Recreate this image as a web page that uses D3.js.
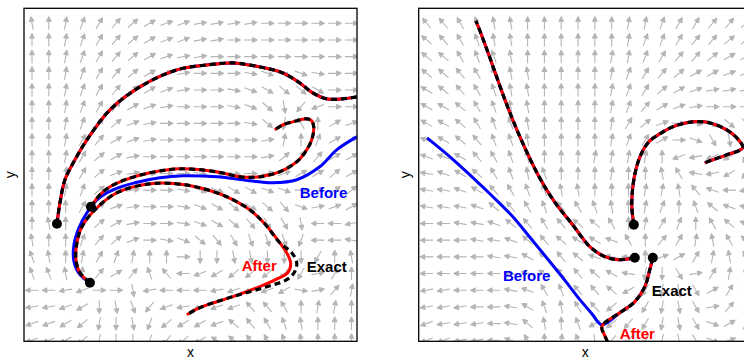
<!DOCTYPE html>
<html>
<head>
<meta charset="utf-8">
<script src="https://cdn.jsdelivr.net/npm/d3@7"></script>
<style>
  body { margin: 0; background: #fff; }
  text { font-family: "Liberation Sans", Arial, sans-serif; }
</style>
</head>
<body>
<svg id="chart" width="744" height="360"></svg>
<script>
// arrow directions, one char per grid cell, 10 degree steps (0 = right, 9 = up, i = left, r = down)
const dirCodes = '0123456789abcdefghijklmnopqrstuvwxyz'

const fieldLeft = [
  'a9876543221111000000',
  '99876543221100000000',
  '99876543211000000000',
  '9987654321000zyxyz00',
  '998765432100zyxwwx00',
  '998765321000zywsnk00',
  '9987542100000zwqc932',
  '99865321000000189733',
  '99864310000000146533',
  '9986421000zzz0123343',
  '998742100zyyxxyy0234',
  '999642100zyxwxwvy123',
  '9a9743100zyxwvuusiij',
  'a9975420zywvutttpiih',
  'ba98678990rrssrrro9a',
  'bba9535bdiklmmmno169',
  'iijk00sjiiijkkklz158',
  'jjklrstnkjkkkddc9889',
  'kklmqrspmllkedcba999',
  'kklmqrrpnmlfedcba999'
]

const fieldRight = [
  'ddcbaa99999988766554',
  'edcbaa99999987765544',
  'eecbba99999887655433',
  'eedcbaa9999876543322',
  'fedcbaa9999876432111',
  'ffecbaa9999875321000',
  'ffecbba999986420zxwv',
  'gfedbba999987630yusr',
  'ggfdcba99988889kjklo',
  'hgfecbab999899achjln',
  'hhgfdcbbaa99988adgij',
  'hhhgedcbdcba9879begh',
  'iihhgedcdeec98679ceg',
  'iiihhgedeffgc9568ace',
  'iiiihhfedeghi92368ac',
  'iiiiihgfddefhqru168a',
  'jjiiihgcbddeloqsu368',
  'jjjiihfbacdmmoqsu157',
  'kjjjihea9blmnoqsuy36',
  'kkjjigc98bsnnoqsuy25'
]

// left panel paths (x, y in 0..100 units of the panel)
const leftArc = [[9.9,35.3],[10.8,41.6],[12.3,48.5],[15.3,54.5],[18.9,60.5],[25.8,69.5],[34.8,76.4],[45.9,81.5],[54.9,83.0],[62.7,83.6],[70.8,82.4],[77.7,80.6],[82.8,77.6],[86.7,74.6],[90.9,72.8],[95.7,72.8],[99.9,73.4]]
const leftCurl = [[20.1,40.4],[22.8,44.0],[25.8,46.4],[30.3,48.5],[37.8,50.6],[46.8,51.8],[57.9,50.9],[64.8,49.4],[70.8,49.4],[76.8,50.9],[81.9,53.9],[84.3,56.6],[86.4,60.5],[87.0,64.4],[86.4,66.2],[84.9,66.8],[80.7,65.9],[77.7,65.0],[75.3,63.5]]
const leftBefore = [[19.8,17.6],[16.8,20.0],[15.0,23.9],[15.0,29.0],[16.5,34.1],[18.9,38.6],[21.9,42.5],[26.7,45.5],[33.3,47.6],[40.8,49.1],[47.7,49.7],[57.9,49.4],[67.8,48.2],[74.7,47.6],[81.9,48.5],[88.8,52.4],[93.9,57.5],[99.9,61.4]]
const leftLoopAfter = [[19.8,17.6],[16.8,20.6],[15.6,24.5],[15.9,29.6],[17.4,34.4],[21.3,39.5],[27.9,44.6],[37.8,47.3],[45.9,47.3],[52.8,46.1],[60.9,43.4],[67.8,39.5],[72.3,35.3],[76.8,29.6],[79.2,26.0],[80.1,23.3],[79.2,20.6],[76.8,19.1],[70.8,16.4],[62.7,13.4],[52.8,10.1],[48.9,8.0]]
const leftLoopExact = [[19.8,17.6],[16.8,20.6],[15.6,24.5],[15.9,29.6],[17.4,34.4],[21.3,39.5],[27.9,44.6],[37.8,47.3],[45.9,47.3],[52.8,46.1],[60.9,43.4],[67.8,39.5],[72.3,35.3],[76.8,29.6],[80.4,26.6],[81.9,23.6],[81.3,20.9],[78.9,18.5],[72.9,16.4],[62.7,13.4],[52.8,10.1],[48.9,8.0]]
const leftDots = [[9.9,35.3],[20.1,40.4],[19.8,17.6]]

// right panel paths
const rightLong = [[64.9,25.1],[59.8,24.5],[55.9,25.4],[51.4,28.4],[46.0,35.3],[40.9,41.7],[36.1,49.5],[30.4,61.4],[25.9,72.5],[21.4,85.1],[18.4,93.2],[17.2,96.2]]
const rightHook = [[64.6,35.0],[64.0,40.4],[64.3,46.4],[65.2,51.5],[66.7,56.0],[69.1,59.9],[72.4,62.3],[76.3,64.4],[82.3,65.9],[87.4,65.6],[92.5,63.5],[95.5,61.1],[97.3,58.1],[92.5,56.0],[88.3,54.5],[85.9,53.6]]
const rightDown = [[70.3,25.1],[69.4,21.5],[67.9,16.4],[64.9,11.9],[60.4,8.6],[55.3,5.0],[55.0,3.8],[55.6,2.3],[56.8,-0.4]]
const rightBefore = [[70.3,25.1],[69.4,21.5],[67.9,16.4],[64.9,11.9],[60.4,8.6],[55.0,5.0],[52.0,8.3],[48.4,12.5],[44.2,17.9],[39.4,23.9],[34.0,30.5],[28.0,37.7],[22.0,43.7],[16.0,49.4],[9.4,55.4],[2.5,61.1]]
const rightDots = [[64.9,25.1],[70.3,25.1],[64.6,35.0]]

const gridCols = d3.range(20).map(i => 2.4 + i * 5.05)
const gridRows = d3.range(20).map(i => 95.5 - i * 5.01)

const panels = [
  {
    left: 24, field: fieldLeft,
    before: [leftArc, leftBefore],
    after: [leftArc, leftCurl, leftLoopAfter],
    exact: [leftArc, leftCurl, leftLoopExact],
    dots: leftDots,
    labels: [
      {text: 'Before', x: 82.8, y: 43.1, color: '#0000ff'},
      {text: 'After', x: 65.4, y: 21.0, color: '#ff0000'},
      {text: 'Exact', x: 84.9, y: 20.9, color: '#000000'}
    ]
  },
  {
    left: 418.7, field: fieldRight,
    before: [rightLong, rightHook, rightBefore],
    after: [rightLong, rightHook, rightDown],
    exact: [rightLong, rightHook, rightDown],
    dots: rightDots,
    labels: [
      {text: 'Before', x: 25.3, y: 18.2, color: '#0000ff'},
      {text: 'Exact', x: 70.0, y: 13.5, color: '#000000'},
      {text: 'After', x: 60.4, y: 0.8, color: '#ff0000'}
    ]
  }
]

const size = 333
const panelTop = 8.3
const svg = d3.select('#chart')

panels.forEach(function (p, k) {
  const x = d3.scaleLinear().domain([0, 100]).range([p.left, p.left + size])
  const y = d3.scaleLinear().domain([0, 100]).range([panelTop + size, panelTop])

  svg.append('clipPath')
    .attr('id', 'clip' + k)
    .append('rect')
    .attr('x', p.left).attr('y', panelTop)
    .attr('width', size).attr('height', size)

  const g = svg.append('g').attr('clip-path', 'url(#clip' + k + ')')

  // vector field
  const arrows = []
  p.field.forEach(function (row, r) {
    row.split('').forEach(function (ch, c) {
      arrows.push({x: gridCols[c], y: gridRows[r], a: dirCodes.indexOf(ch) * 10})
    })
  })
  const len = 13, head = 4.5, half = 2.3
  g.selectAll('path.arrow')
    .data(arrows)
    .enter()
    .append('path')
    .attr('class', 'arrow')
    .attr('fill', '#b5b5b5')
    .attr('stroke', '#b5b5b5')
    .attr('stroke-width', 1.1)
    .attr('stroke-linejoin', 'round')
    .attr('d', function (d) {
      const cx = x(d.x), cy = y(d.y)
      const ux = Math.cos(d.a * Math.PI / 180), uy = -Math.sin(d.a * Math.PI / 180)
      const tx = cx - ux * len / 2, ty = cy - uy * len / 2
      const hx = cx + ux * len / 2, hy = cy + uy * len / 2
      const bx = hx - ux * head, by = hy - uy * head
      return 'M' + tx + ',' + ty + 'L' + bx + ',' + by +
        'M' + hx + ',' + hy + 'L' + (bx - uy * half) + ',' + (by + ux * half) +
        'L' + (bx + uy * half) + ',' + (by - ux * half) + 'Z'
    })

  const line = d3.line()
    .x(d => x(d[0]))
    .y(d => y(d[1]))
    .curve(d3.curveCatmullRom.alpha(0.5))

  g.selectAll('path.before')
    .data(p.before)
    .enter()
    .append('path')
    .attr('class', 'before')
    .attr('fill', 'none')
    .attr('stroke', '#0000ff')
    .attr('stroke-width', 3)
    .attr('d', line)

  g.selectAll('path.after')
    .data(p.after)
    .enter()
    .append('path')
    .attr('class', 'after')
    .attr('fill', 'none')
    .attr('stroke', '#ff0000')
    .attr('stroke-width', 3)
    .attr('d', line)

  g.selectAll('path.exact')
    .data(p.exact)
    .enter()
    .append('path')
    .attr('class', 'exact')
    .attr('fill', 'none')
    .attr('stroke', '#000')
    .attr('stroke-width', 3.2)
    .attr('stroke-dasharray', '6,4')
    .attr('d', line)

  g.selectAll('circle')
    .data(p.dots)
    .enter()
    .append('circle')
    .attr('cx', d => x(d[0]))
    .attr('cy', d => y(d[1]))
    .attr('r', 5)
    .attr('fill', '#000')

  g.selectAll('text')
    .data(p.labels)
    .enter()
    .append('text')
    .attr('x', d => x(d.x))
    .attr('y', d => y(d.y))
    .attr('fill', d => d.color)
    .style('font-size', '15px')
    .style('font-weight', 'bold')
    .text(d => d.text)

  svg.append('rect')
    .attr('x', p.left).attr('y', panelTop)
    .attr('width', size).attr('height', size)
    .attr('fill', 'none')
    .attr('stroke', '#000')
    .attr('stroke-width', 1.3)

  svg.append('text')
    .attr('x', x(50))
    .attr('y', 357)
    .attr('text-anchor', 'middle')
    .style('font-size', '14px')
    .text('x')
  svg.append('text')
    .attr('transform', 'translate(' + (p.left - 9) + ',' + y(50) + ') rotate(-90)')
    .attr('text-anchor', 'middle')
    .style('font-size', '14px')
    .text('y')
})
</script>
</body>
</html>
